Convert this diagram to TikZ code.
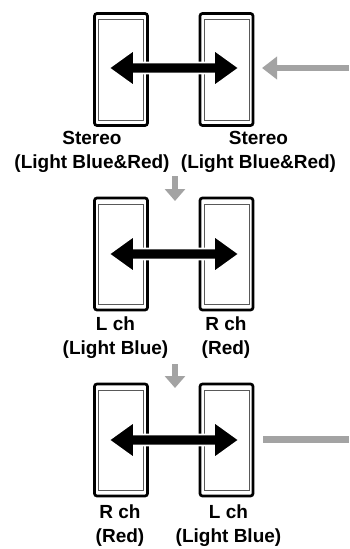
\documentclass[tikz,border=0pt]{standalone}
\usepackage{fontspec}
\setmainfont{Liberation Sans}
\usepackage{tikz}
\usetikzlibrary{arrows.meta}
\definecolor{arrowgray}{RGB}{163,163,163}

\begin{document}
\begin{tikzpicture}[x=1pt,y=1pt]
\tikzstyle{spk}=[draw, line width=2.7pt, rounded corners=2.5pt, outer sep=0pt, inner sep=0pt, minimum width=53pt, minimum height=112pt]
\tikzstyle{spkin}=[draw=black!65, line width=1pt]
\tikzstyle{dbl}=[fill=black, draw=white, line width=1.6pt, line join=miter]
\tikzstyle{lbl}=[align=center, inner sep=0pt, font=\bfseries\fontsize{19}{24}\selectfont]
\tikzstyle{garrow}=[draw=arrowgray, line width=6pt, -{Triangle[length=15pt,width=22pt]}, arrowgray]
\tikzstyle{gdown}=[draw=arrowgray, line width=6pt, -{Triangle[length=12pt,width=20pt]}, arrowgray]
\useasboundingbox (0,0) rectangle (349,-549);
% top: stereo
\node[spk] (la) at (121,-69.5) {};
\node[spk] (ra) at (226.5,-69.5) {};
\draw[spkin] ([shift={(4,-6)}]la.north west) rectangle ([shift={(-4,5.5)}]la.south east);
\draw[spkin] ([shift={(4,-6)}]ra.north west) rectangle ([shift={(-4,5.5)}]ra.south east);
\coordinate (al) at (109,-68);
\coordinate (ar) at (239,-68);
\draw[dbl] (al) -- ++(25,18) -- ++(0,-12.5) -- ++(80,0) -- ++(0,12.5) -- (ar) -- ++(-25,-18) -- ++(0,12.5) -- ++(-80,0) -- ++(0,-12.5) -- cycle;
\coordinate (gin) at (349,-68);
\coordinate (gtip) at (262,-68);
\draw[garrow] (gin) -- (gtip);
\node[lbl] (tla) at (92,-152) {Stereo\\(Light Blue\&Red)};
\node[lbl] (tra) at (258.5,-152) {Stereo\\(Light Blue\&Red)};
\coordinate (d1s) at (175,-176);
\coordinate (d1e) at (175,-201);
\draw[gdown] (d1s) -- (d1e);
% middle: L ch / R ch
\node[spk] (lb) at (121,-254) {};
\node[spk] (rb) at (226.5,-254) {};
\draw[spkin] ([shift={(4,-6)}]lb.north west) rectangle ([shift={(-4,5.5)}]lb.south east);
\draw[spkin] ([shift={(4,-6)}]rb.north west) rectangle ([shift={(-4,5.5)}]rb.south east);
\coordinate (bl) at (109,-254);
\coordinate (br) at (239,-254);
\draw[dbl] (bl) -- ++(25,18) -- ++(0,-12.5) -- ++(80,0) -- ++(0,12.5) -- (br) -- ++(-25,-18) -- ++(0,12.5) -- ++(-80,0) -- ++(0,-12.5) -- cycle;
\node[lbl] (tlb) at (115.5,-338) {L ch\\(Light Blue)};
\node[lbl] (trb) at (226,-338) {R ch\\(Red)};
\coordinate (d2s) at (175,-364);
\coordinate (d2e) at (175,-388);
\draw[gdown] (d2s) -- (d2e);
% bottom: R ch / L ch
\node[spk] (lc) at (121,-440) {};
\node[spk] (rc) at (226.5,-440) {};
\draw[spkin] ([shift={(4,-6)}]lc.north west) rectangle ([shift={(-4,5.5)}]lc.south east);
\draw[spkin] ([shift={(4,-6)}]rc.north west) rectangle ([shift={(-4,5.5)}]rc.south east);
\coordinate (cl) at (109,-440);
\coordinate (cr) at (239,-440);
\draw[dbl] (cl) -- ++(25,18) -- ++(0,-12.5) -- ++(80,0) -- ++(0,12.5) -- (cr) -- ++(-25,-18) -- ++(0,12.5) -- ++(-80,0) -- ++(0,-12.5) -- cycle;
\coordinate (gout) at (263,-439);
\coordinate (gend) at (349,-439);
\draw[draw=arrowgray, line width=7pt] (gout) -- (gend);
\node[lbl] (tlc) at (120,-525.5) {R ch\\(Red)};
\node[lbl] (trc) at (228.5,-525.5) {L ch\\(Light Blue)};
\end{tikzpicture}
\end{document}
